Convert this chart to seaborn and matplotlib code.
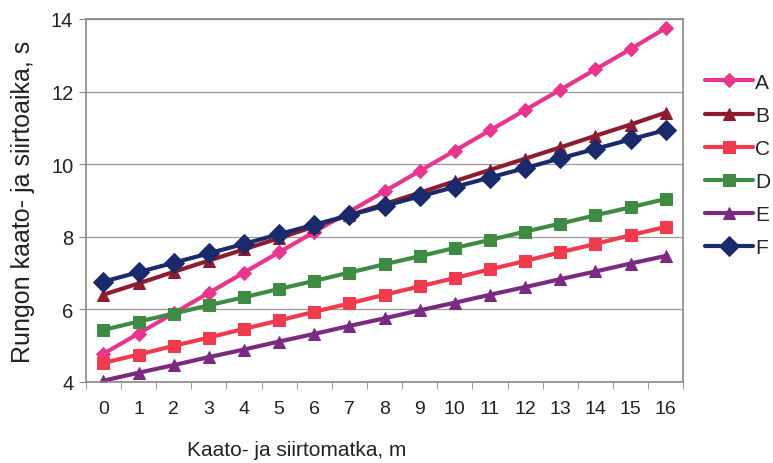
import numpy as np
import pandas as pd
import matplotlib
matplotlib.use("Agg")
import matplotlib.pyplot as plt
import seaborn as sns

x = list(range(17))
A = [4.77, 5.33, 5.89, 6.45, 7.01, 7.57, 8.13, 8.69, 9.25, 9.81, 10.37, 10.93, 11.49, 12.05, 12.61, 13.17, 13.75]
B = [6.40, 6.71, 7.03, 7.34, 7.65, 7.96, 8.28, 8.59, 8.90, 9.21, 9.53, 9.84, 10.15, 10.46, 10.78, 11.09, 11.42]
C = [4.52, 4.75, 4.99, 5.22, 5.46, 5.69, 5.93, 6.16, 6.40, 6.63, 6.86, 7.10, 7.33, 7.57, 7.80, 8.04, 8.27]
D = [5.43, 5.66, 5.88, 6.11, 6.33, 6.56, 6.78, 7.01, 7.24, 7.46, 7.69, 7.91, 8.14, 8.36, 8.59, 8.81, 9.04]
E = [4.03, 4.25, 4.46, 4.68, 4.89, 5.11, 5.32, 5.54, 5.75, 5.97, 6.18, 6.40, 6.61, 6.83, 7.04, 7.26, 7.47]
F = [6.76, 7.02, 7.28, 7.54, 7.80, 8.07, 8.33, 8.59, 8.85, 9.11, 9.37, 9.63, 9.89, 10.16, 10.42, 10.68, 10.94]
series_names = ["A", "B", "C", "D", "E", "F"]
series_values = [A, B, C, D, E, F]
colors = {"A": "#E8368C", "B": "#8E1C2E", "C": "#F03A4E", "D": "#3F8B44", "E": "#7A2A80", "F": "#1B2A6B"}
markers = {"A": "D", "B": "^", "C": "s", "D": "s", "E": "^", "F": "D"}
msizes = {"A": 7, "B": 9, "C": 9, "D": 9, "E": 9, "F": 10}

rows = []
for n, vals in zip(series_names, series_values):
    for xi, v in zip(x, vals):
        rows.append({"x": xi, "y": v, "s": n})
df = pd.DataFrame(rows)

sns.set_style("white")
plt.rcParams["font.family"] = ["Liberation Sans", "DejaVu Sans"]

fig = plt.figure(figsize=(7.73, 4.64), dpi=100)
ax = fig.add_axes([0.111, 0.175, 0.773, 0.782])

for n in series_names:
    sub = df[df["s"] == n]
    sns.lineplot(data=sub, x="x", y="y", ax=ax, color=colors[n], marker=markers[n],
                 markersize=msizes[n], linewidth=3.0, markeredgecolor=colors[n],
                 label=n, legend=True)

ax.set_xlim(-0.5, 16.5)
ax.set_ylim(4, 14)
ax.set_yticks([4, 6, 8, 10, 12, 14])
ax.set_xticks(x)
ax.set_xticks(np.arange(-0.5, 17, 1), minor=True)
ax.tick_params(axis="x", which="major", length=0, labelsize=14, pad=13, colors="#222222")
ax.tick_params(axis="x", which="minor", length=5, direction="out", color="#888888", bottom=True)
ax.tick_params(axis="y", which="major", length=5, direction="out", color="#888888", labelsize=14.5, left=True, colors="#222222", pad=4)
ax.yaxis.grid(True, color="#999999", linewidth=0.9)
ax.set_axisbelow(True)
for sp in ax.spines.values():
    sp.set_color("#888888")
    sp.set_linewidth(1.2)

ax.set_xlabel("Kaato- ja siirtomatka, m", fontsize=15, color="#222222")
ax.xaxis.set_label_coords(0.353, -0.212)
ax.xaxis.label.set_va("bottom")
ax.set_ylabel("Rungon kaato- ja siirtoaika, s", fontsize=18, color="#222222")
ax.yaxis.set_label_coords(-0.085, 0.5)

leg = ax.legend(loc="upper left", bbox_to_anchor=(1.022, 0.875), frameon=False,
                fontsize=15, handlelength=2.3, handletextpad=0.1, labelspacing=0.68,
                borderaxespad=0)

fig.savefig("out.png", dpi=100)
